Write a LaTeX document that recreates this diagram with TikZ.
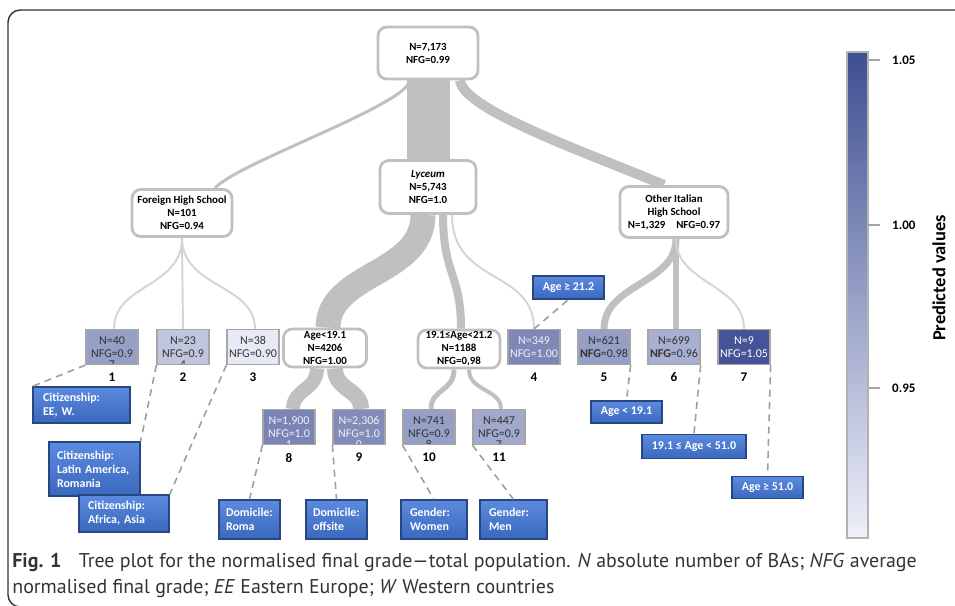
\documentclass[tikz,border=0pt]{standalone}
\usepackage{fontspec}
\setmainfont{Carlito}
\newfontfamily\capfont{PT Sans}
\usetikzlibrary{positioning,calc,backgrounds}

\definecolor{cdark}{RGB}{62,78,146}
\definecolor{clight}{RGB}{238,240,249}
\definecolor{flowgray}{RGB}{192,192,192}
\definecolor{thingray}{RGB}{212,212,212}
\definecolor{boxtop}{RGB}{92,138,222}
\definecolor{boxblue}{RGB}{58,104,190}
\definecolor{boxedge}{RGB}{40,70,130}

\begin{document}
\begin{tikzpicture}[x=0.02cm, y=-0.02cm,
	every node/.style={font=\fontsize{6.8}{7.4}\selectfont},
	split/.style={draw=flowgray, line width=1.6pt, rounded corners=5pt, fill=white, align=center, inner sep=1pt, font=\fontsize{6.2}{7.4}\selectfont\bfseries},
	leaf/.style={draw=black!35, line width=0.7pt, fill=cdark!#1!clight, minimum width=1.04cm, minimum height=0.7cm, align=center, inner sep=1pt, text=black!80},
	pale/.style={text=white!92!cdark},
	trail/.style={path picture={\node at (path picture bounding box.south) {#1};}},
	num/.style={font=\fontsize{7.5}{8}\selectfont\bfseries, inner sep=0pt},
	cond/.style={draw=boxedge, line width=0.7pt, top color=boxtop, bottom color=boxblue, text=white, align=left, inner ysep=1pt, font=\fontsize{6.8}{8}\selectfont\bfseries},
	flow/.style={draw=flowgray, line width=#1*0.02cm},
	twig/.style={draw=thingray, line width=1.1pt},
	link/.style={draw=black!38, dash pattern=on 4pt off 3pt, line width=0.9pt}
]
	\useasboundingbox (0,0) rectangle (955,605);
	\draw[black!80, line width=0.8pt, rounded corners=7pt] (975,10) -- (8,10) -- (8,607) -- (975,607);

	% splits
	\node[split, minimum width=2.0cm, minimum height=1.04cm] (root) at (428,53) {N=7,173\\NFG=0.99};
	\node[split, minimum width=1.92cm, minimum height=1.06cm] (lyc) at (428,187) {\textit{Lyceum}\\N=5,743\\NFG=1.0};
	\node[split, minimum width=2.0cm, minimum height=0.94cm] (fhs) at (182,213) {Foreign High School\\N=101\\NFG=0.94};
	\node[split, minimum width=2.16cm, minimum height=1.02cm] (oih) at (674,212) {Other Italian\\High School\\N=1,329\quad NFG=0.97};
	\node[split, minimum width=1.66cm, minimum height=0.76cm] (age1) at (325,348) {Age<19.1\\N=4206\\NFG=1.00};
	\node[split, minimum width=1.64cm, minimum height=0.76cm] (age2) at (459,349) {19.1≤Age<21.2\\N=1188\\NFG=0,98};

	% leaves
	\node[leaf=50, trail=7] (n1) at (112,347) {N=40\\NFG=0.9};
	\node[leaf=26, trail=4] (n2) at (183,347) {N=23\\NFG=0.9};
	\node[leaf=4] (n3) at (253,347) {N=38\\NFG=0.90};
	\node[leaf=64, pale] (n4) at (534,347) {N=349\\NFG=1.00};
	\node[leaf=50] (n5) at (604,347) {N=621\\\textbf{NFG}=0.98};
	\node[leaf=40] (n6) at (674,347) {N=699\\\textbf{NFG}=0.96};
	\node[leaf=96, text=white] (n7) at (744,347) {N=9\\NFG=1.05};
	\node[leaf=66, pale, trail=1] (n8) at (289,427) {N=1,900\\NFG=1.0};
	\node[leaf=62, pale, trail=0] (n9) at (359,427) {N=2,306\\NFG=1.0};
	\node[leaf=50, trail=8] (n10) at (429,427) {N=741\\NFG=0.9};
	\node[leaf=44, trail=7] (n11) at (499,427) {N=447\\NFG=0.9};
	\foreach \i in {1,...,11}
		\node[num, below=0.15cm of n\i] (l\i) {\i};

	% conditions
	\node[cond, text width=1.54cm, inner xsep=0.2cm, minimum height=0.72cm] (cit1) at (81.5,405) {Citizenship:\\EE, W.};
	\node[cond, text width=1.5cm, inner xsep=0.16cm, minimum height=1.08cm] (cit2) at (94.5,469) {Citizenship:\\Latin America,\\Romania};
	\node[cond, text width=1.44cm, inner xsep=0.18cm, minimum height=0.74cm] (cit3) at (124,513.5) {Citizenship:\\Africa, Asia};
	\node[cond, text width=0.94cm, inner xsep=0.14cm, minimum height=0.78cm] (dom1) at (249.5,519.5) {Domicile:\\Roma};
	\node[cond, text width=0.94cm, inner xsep=0.14cm, minimum height=0.78cm] (dom2) at (336.5,519.5) {Domicile:\\offsite};
	\node[cond, text width=0.96cm, inner xsep=0.18cm, minimum height=0.78cm] (gen1) at (434,519.5) {Gender:\\Women};
	\node[cond, text width=0.98cm, inner xsep=0.18cm, minimum height=0.78cm] (gen2) at (513.5,519.5) {Gender:\\Men};
	\node[cond, align=center, minimum width=1.42cm, minimum height=0.46cm] (agea) at (568.5,287.5) {Age ≥ 21.2};
	\node[cond, align=center, minimum width=1.42cm, minimum height=0.44cm] (ageb) at (626.5,412) {Age < 19.1};
	\node[cond, align=center, minimum width=2.08cm, minimum height=0.48cm] (agec) at (694,446.5) {19.1 ≤ Age < 51.0};
	\node[cond, align=center, minimum width=1.42cm, minimum height=0.44cm] (aged) at (767.5,487.5) {Age ≥ 51.0};

	\draw[link] (n1.south west) -- (cit1.north west);
	\draw[link] (n2.south west) -- (cit2.north east);
	\draw[link] (n3.south west) -- (cit3.north east);
	\draw[link] (n4.north) -- (agea.south);
	\draw[link] (n5.south east) -- (ageb.north);
	\draw[link] (n6.south east) -- (agec.north);
	\draw[link] (n7.south east) -- (aged.north);
	\draw[link] (n8.south west) -- (dom1.north);
	\draw[link] (n9.south west) -- (dom2.north);
	\draw[link] (n10.south west) -- (gen1.north);
	\draw[link] (n11.south west) -- (gen2.north);

	% flows behind the boxes
	\begin{scope}[on background layer]
		\draw[flow=43] (root.south) -- (lyc.north);
		\draw[flow=3] ($(root.south)+(-18,0)$) .. controls ($(root.south)+(-22,25)$) and ($(fhs.north)+(55,-25)$) .. ($(fhs.north)+(33,0)$);
		\draw[flow=10] ($(root.south)+(32,0)$) .. controls ($(root.south)+(35,30)$) and ($(oih.north)+(-80,-30)$) .. ($(oih.north)+(-10,0)$);
		\draw[flow=25] ($(lyc.south)+(-5,0)$) .. controls ($(lyc.south)+(-5,60)$) and ($(age1.north)+(3,-55)$) .. ($(age1.north)+(3,0)$);
		\draw[flow=8] ($(lyc.south)+(15,0)$) .. controls ($(lyc.south)+(15,60)$) and ($(age2.north)+(2,-55)$) .. ($(age2.north)+(2,0)$);
		\draw[twig] ($(lyc.south)+(24,0)$) .. controls ($(lyc.south)+(24,70)$) and ($(n4.north)+(0,-60)$) .. (n4.north);
		\draw[twig] (fhs.south) .. controls ($(fhs.south)+(0,50)$) and ($(n1.north)+(2,-45)$) .. ($(n1.north)+(2,0)$);
		\draw[twig] (fhs.south) -- (n2.north);
		\draw[twig] (fhs.south) .. controls ($(fhs.south)+(0,50)$) and ($(n3.north)+(2,-45)$) .. ($(n3.north)+(2,0)$);
		\draw[flow=7] ($(oih.south)+(2,0)$) .. controls ($(oih.south)+(2,45)$) and ($(n5.north)+(0,-45)$) .. (n5.north);
		\draw[flow=6] ($(oih.south)+(2,0)$) -- ($(n6.north)+(2,0)$);
		\draw[twig] ($(oih.south)+(2,0)$) .. controls ($(oih.south)+(2,45)$) and ($(n7.north)+(0,-45)$) .. (n7.north);
		\draw[flow=14] ($(age1.south)+(-8,0)$) .. controls ($(age1.south)+(-8,22)$) and ($(n8.north)+(4,-20)$) .. ($(n8.north)+(4,0)$);
		\draw[flow=16] ($(age1.south)+(10,0)$) .. controls ($(age1.south)+(10,22)$) and ($(n9.north)+(2,-20)$) .. ($(n9.north)+(2,0)$);
		\draw[flow=5] ($(age2.south)+(-5,0)$) .. controls ($(age2.south)+(-5,22)$) and ($(n10.north)+(2,-20)$) .. ($(n10.north)+(2,0)$);
		\draw[flow=4] ($(age2.south)+(10,0)$) .. controls ($(age2.south)+(10,22)$) and ($(n11.north)+(2,-20)$) .. ($(n11.north)+(2,0)$);
	\end{scope}

	% colour bar
	\shade[top color=cdark, bottom color=clight] (847,52) rectangle (868,538);
	\draw[black!30, line width=0.8pt] (847,52) rectangle (868,538);
	\foreach \v/\yy [count=\k] in {1.05/60, 1.00/225, 0.95/388} {
		\draw[black!35, line width=0.6pt] (868,\yy) -- (880,\yy);
		\node[anchor=west, font=\fontsize{7.4}{8}\selectfont\bfseries] (tick\k) at (886,\yy) {\v};
	}
	\node[rotate=90, font=\fontsize{10.5}{12}\selectfont\bfseries] (ptitle) at (939,278) {Predicted values};

	% caption
	\node[anchor=base west, inner sep=0pt, font=\capfont\fontsize{11.35}{14}\selectfont, text=black!80] (cap1) at (12,567)
		{\textbf{Fig. 1}\hspace{0.6em} Tree plot for the normalised final grade—total population. \textit{N} absolute number of BAs; \textit{NFG} average};
	\node[anchor=base west, inner sep=0pt, font=\capfont\fontsize{11.35}{14}\selectfont, text=black!80] (cap2) at (12,593)
		{normalised final grade; \textit{EE} Eastern Europe; \textit{W} Western countries};
\end{tikzpicture}
\end{document}
